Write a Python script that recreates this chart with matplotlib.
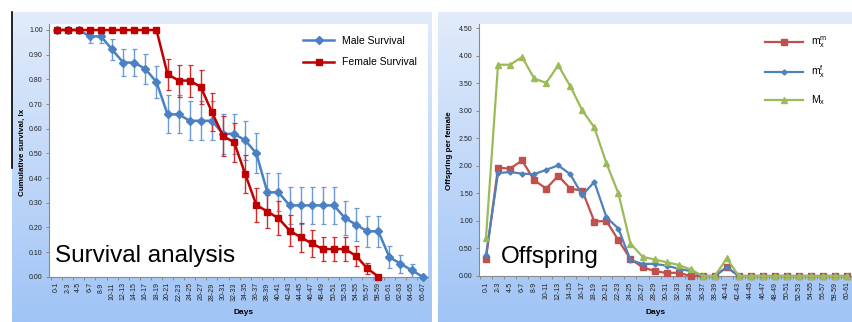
import numpy as np
import matplotlib
matplotlib.use("Agg")
import matplotlib.pyplot as plt
from matplotlib.lines import Line2D
from matplotlib.ticker import FixedLocator

plt.rcParams['font.family'] = ['Liberation Sans', 'DejaVu Sans']
plt.rcParams['mathtext.fontset'] = 'custom'
plt.rcParams['mathtext.rm'] = 'Liberation Sans'
plt.rcParams['mathtext.it'] = 'Liberation Sans'

# ---------------- data ----------------
surv_days = [f"{a}-{a+1}" for a in range(0, 68, 2)]          # 0-1 .. 66-67
male_surv = [1.00, 1.00, 1.00, 0.974, 0.974, 0.921, 0.868, 0.868, 0.842, 0.789,
             0.658, 0.658, 0.632, 0.632, 0.632, 0.579, 0.579, 0.553, 0.500, 0.342,
             0.342, 0.289, 0.289, 0.289, 0.289, 0.289, 0.237, 0.211, 0.184, 0.184,
             0.079, 0.053, 0.026, 0.0]
male_err = [0, 0, 0, 0.025, 0.025, 0.044, 0.053, 0.053, 0.060, 0.066,
            0.077, 0.077, 0.079, 0.079, 0.079, 0.080, 0.080, 0.080, 0.081, 0.077,
            0.077, 0.074, 0.074, 0.074, 0.074, 0.074, 0.069, 0.066, 0.063, 0.063,
            0.044, 0.036, 0.026, 0]
female_surv = [1.00, 1.00, 1.00, 1.00, 1.00, 1.00, 1.00, 1.00, 1.00, 1.00,
               0.821, 0.795, 0.795, 0.769, 0.667, 0.570, 0.545, 0.416, 0.291, 0.264,
               0.237, 0.187, 0.160, 0.135, 0.112, 0.112, 0.112, 0.084, 0.034, 0.0]
female_err = [0, 0, 0, 0, 0, 0, 0, 0, 0, 0,
              0.063, 0.065, 0.065, 0.067, 0.076, 0.080, 0.080, 0.078, 0.068, 0.066,
              0.068, 0.062, 0.058, 0.055, 0.050, 0.050, 0.050, 0.040, 0.022, 0]

off_days = [f"{a}-{a+1}" for a in range(0, 62, 2)]           # 0-1 .. 60-61
mx_m = [0.31, 1.97, 1.95, 2.10, 1.74, 1.59, 1.82, 1.59, 1.55, 0.99,
        1.00, 0.65, 0.31, 0.16, 0.09, 0.055, 0.06, 0.0, 0.0, 0.0,
        0.16, 0, 0, 0, 0, 0, 0, 0, 0, 0, 0]
mx_f = [0.38, 1.87, 1.89, 1.86, 1.85, 1.93, 2.01, 1.85, 1.47, 1.71,
        1.07, 0.86, 0.29, 0.22, 0.22, 0.19, 0.13, 0.09, 0.0, 0.0,
        0.16, 0, 0, 0, 0, 0, 0, 0, 0, 0, 0]
Mx = [0.69, 3.84, 3.84, 3.98, 3.59, 3.51, 3.83, 3.45, 3.01, 2.70,
      2.05, 1.50, 0.59, 0.35, 0.30, 0.25, 0.20, 0.12, 0.0, 0.0,
      0.32, 0, 0, 0, 0, 0, 0, 0, 0, 0, 0]

W, H = 852, 322
fig = plt.figure(figsize=(W / 100, H / 100), dpi=100)
fig.patch.set_facecolor('white')

def fx(px):
    return px / W

def fy(py):
    return (H - py) / H

# gradient panels
grad = np.linspace(0, 1, 256)[:, None]
top = np.array([226, 236, 251]) / 255
bot = np.array([160, 196, 246]) / 255
img = top[None, None, :] * (1 - grad[:, :, None]) + bot[None, None, :] * grad[:, :, None]
for (x0, x1) in [(12, 432), (438, 852)]:
    bg = fig.add_axes([fx(x0), 0, fx(x1 - x0), fy(12)], zorder=-5)
    bg.imshow(img, aspect='auto', extent=[0, 1, 0, 1])
    bg.axis('off')
fig.add_artist(Line2D([fx(12), fx(12)], [fy(12), fy(168)], color='black', lw=1.2))

axis_gray = '#8a8a8a'

def style_axis(ax, labels):
    for s in ['top', 'right']:
        ax.spines[s].set_visible(False)
    for s in ['left', 'bottom']:
        ax.spines[s].set_color(axis_gray)
        ax.spines[s].set_linewidth(0.8)
    ax.set_facecolor('white')
    n = len(labels)
    ax.set_xticks(np.arange(n))
    ax.set_xticklabels(labels, rotation=90, fontsize=5, color='#222222')
    ax.xaxis.set_minor_locator(FixedLocator(np.arange(n + 1) - 0.5))
    ax.tick_params(axis='x', which='major', length=0, pad=4)
    ax.tick_params(axis='x', which='minor', length=2.5, color=axis_gray, width=0.7)
    ax.tick_params(axis='y', length=2.5, color=axis_gray, width=0.7, labelsize=5,
                   labelcolor='#222222', pad=2)

# ---------------- left: survival ----------------
axL = fig.add_axes([fx(49), fy(276.7), fx(428 - 49), (276.7 - 24) / H])
x = np.arange(len(surv_days))
xf = np.arange(len(female_surv))
male_c = '#4a80c4'
fem_c = '#c00000'
axL.errorbar(x, male_surv, yerr=male_err, fmt='none', ecolor='#6a9ad6',
             elinewidth=1.0, capsize=1.8, capthick=0.9, zorder=3)
axL.errorbar(xf, female_surv, yerr=female_err, fmt='none', ecolor='#d42a2a',
             elinewidth=1.0, capsize=1.8, capthick=0.9, zorder=3)
axL.plot(x, male_surv, color=male_c, lw=1.8, marker='D', ms=3.8,
         label='Male Survival', zorder=4, clip_on=False)
axL.plot(xf, female_surv, color=fem_c, lw=1.8, marker='s', ms=5,
         label='Female Survival', zorder=5, clip_on=False)
axL.set_xlim(-0.69, 33.48)
axL.set_ylim(0, 1.0243)
axL.set_yticks(np.arange(0, 1.01, 0.1))
axL.set_yticklabels([f"{v:.2f}" for v in np.arange(0, 1.01, 0.1)])
style_axis(axL, surv_days)
axL.legend(loc='upper left', bbox_to_anchor=(fx(303), fy(36)),
           bbox_transform=fig.transFigure, frameon=False, fontsize=7.5,
           handlelength=3.0, handletextpad=0.7, labelspacing=1.1,
           borderpad=0, borderaxespad=0)

# ---------------- right: offspring ----------------
axR = fig.add_axes([fx(479), fy(276), fx(852 - 479), (276 - 24) / H])
xo = np.arange(len(off_days))
axR.plot(xo, mx_m, color='#c0504d', lw=1.6, marker='s', ms=4.2,
         label=r'$\mathregular{m_x^m}$', zorder=3, clip_on=False)
axR.plot(xo, mx_f, color='#4f81bd', lw=1.6, marker='D', ms=2.6,
         label=r'$\mathregular{m_x^f}$', zorder=4, clip_on=False)
axR.plot(xo, Mx, color='#9bbb59', lw=1.6, marker='^', ms=3.8,
         label=r'$\mathregular{M_x}$', zorder=5, clip_on=False)
axR.set_xlim(-0.58, 30.4)
axR.set_ylim(0, 4.58)
axR.set_yticks(np.arange(0, 4.51, 0.5))
axR.set_yticklabels([f"{v:.2f}" for v in np.arange(0, 4.51, 0.5)])
style_axis(axR, off_days)
axR.legend(loc='upper left', bbox_to_anchor=(fx(765), fy(35)),
           bbox_transform=fig.transFigure, frameon=False, fontsize=7.5,
           handlelength=3.6, handletextpad=0.8, labelspacing=1.25,
           borderpad=0, borderaxespad=0)

# ---------------- texts ----------------
fig.text(fx(22), fy(152), 'Cumulative survival, lx', rotation=90, fontsize=5.8,
         fontweight='bold', ha='center', va='center')
fig.text(fx(450), fy(151), 'Offspring per female', rotation=90, fontsize=5.8,
         fontweight='bold', ha='center', va='center')
fig.text(fx(244), fy(313), 'Days', fontsize=6, fontweight='bold', ha='center', va='center')
fig.text(fx(656), fy(312), 'Days', fontsize=6, fontweight='bold', ha='center', va='center')
fig.text(fx(55), fy(262), 'Survival analysis', fontsize=17.5, ha='left', va='baseline')
fig.text(fx(501), fy(263), 'Offspring', fontsize=17.5, ha='left', va='baseline')

fig.savefig('out.png', dpi=100)
